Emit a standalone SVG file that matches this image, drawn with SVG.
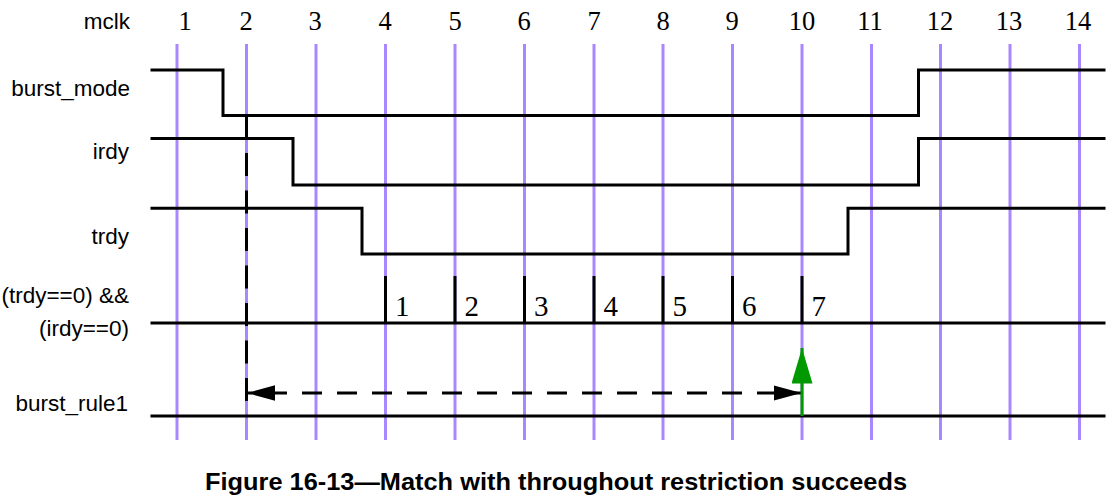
<svg xmlns="http://www.w3.org/2000/svg" width="1120" height="497" viewBox="0 0 1120 497">
<style>
.bg{fill:#ffffff}
.clk{stroke:#a987ff;stroke-width:3;fill:none}
.wave{stroke:#000;stroke-width:3;fill:none;stroke-linejoin:miter;stroke-linecap:square}
.tick{stroke:#000;stroke-width:3;fill:none}
.lbl{font-family:"Liberation Sans",Arial,sans-serif;font-size:22.5px;fill:#000;text-anchor:end}
.num{font-family:"Liberation Serif","Times New Roman",serif;font-size:26.5px;fill:#000;text-anchor:middle}
.cnt{font-family:"Liberation Serif","Times New Roman",serif;font-size:29px;fill:#000}
.dash{stroke:#000;stroke-width:3;fill:none}
.green{stroke:#009900;stroke-width:3;fill:none}
.cap{font-family:"Liberation Sans",Arial,sans-serif;font-size:24.5px;font-weight:bold;fill:#000}
</style>
<defs>
<marker id="ah" markerUnits="userSpaceOnUse" markerWidth="30" markerHeight="16" refX="28" refY="7.75" orient="auto-start-reverse" viewBox="0 0 30 16">
<path d="M0,0 L28,7.75 L0,15.5 z" fill="#000"/>
</marker>
<marker id="gh" markerUnits="userSpaceOnUse" markerWidth="36" markerHeight="22" refX="35.5" refY="10.5" orient="auto" viewBox="0 0 36 22">
<path d="M0,0 L35.5,10.5 L0,21 z" fill="#009900"/>
</marker>
</defs>
<rect class="bg" x="0" y="0" width="1120" height="497"/>
<g id="clock-grid">
<path class="clk" d="M177,44V440 M246.5,44V440 M316,44V440 M385.5,44V440 M455,44V440 M524.5,44V440 M594,44V440 M663,44V440 M732.5,44V440 M802,44V440 M871.5,44V440 M940.5,44V440 M1010,44V440 M1079.5,44V440"/>
</g>
<g id="clock-numbers">
<text class="num" x="185" y="29.5">1</text>
<text class="num" x="246" y="29.5">2</text>
<text class="num" x="315" y="29.5">3</text>
<text class="num" x="385" y="29.5">4</text>
<text class="num" x="455" y="29.5">5</text>
<text class="num" x="524" y="29.5">6</text>
<text class="num" x="594" y="29.5">7</text>
<text class="num" x="663" y="29.5">8</text>
<text class="num" x="732" y="29.5">9</text>
<text class="num" x="802" y="29.5">10</text>
<text class="num" x="870" y="29.5">11</text>
<text class="num" x="940" y="29.5">12</text>
<text class="num" x="1009" y="29.5">13</text>
<text class="num" x="1078" y="29.5">14</text>
</g>
<g id="labels">
<text class="lbl" x="130" y="29">mclk</text>
<text class="lbl" x="130" y="96">burst_mode</text>
<text class="lbl" x="129" y="159">irdy</text>
<text class="lbl" x="129" y="243.5">trdy</text>
<text class="lbl" x="129" y="303">(trdy==0) &amp;&amp;</text>
<text class="lbl" x="129" y="336">(irdy==0)</text>
<text class="lbl" x="128" y="411">burst_rule1</text>
</g>
<g id="burst_mode">
<path class="wave" d="M152,70 H223 V115.5 H918.5 V70 H1104"/>
</g>
<g id="irdy">
<path class="wave" d="M152,138.5 H293 V185 H918.5 V138.5 H1104"/>
</g>
<g id="trdy">
<path class="wave" d="M152,208.3 H362 V254 H848 V208.3 H1104"/>
</g>
<g id="condition">
<path class="wave" d="M152,323 H1104"/>
<path class="tick" d="M385.5,276V323 M455,276V323 M524.5,276V323 M594,276V323 M663,276V323 M732.5,276V323 M802,276V323"/>
<text class="cnt" x="395" y="316">1</text>
<text class="cnt" x="464.5" y="316">2</text>
<text class="cnt" x="534" y="316">3</text>
<text class="cnt" x="603.5" y="316">4</text>
<text class="cnt" x="672.5" y="316">5</text>
<text class="cnt" x="742" y="316">6</text>
<text class="cnt" x="811.5" y="316">7</text>
</g>
<g id="burst_rule1">
<path class="wave" d="M152,416 H1104"/>
</g>
<g id="connectors">
<path class="dash" d="M246.5,115.5 V416" stroke-dasharray="23,14.5"/>
<path class="dash" d="M247,393 H801.5" stroke-dasharray="20,15" stroke-dashoffset="15" marker-start="url(#ah)" marker-end="url(#ah)"/>
<path class="green" d="M802,416 V348" marker-end="url(#gh)"/>
</g>
<text class="cap" x="205" y="490" textLength="702" lengthAdjust="spacingAndGlyphs">Figure 16-13—Match with throughout restriction succeeds</text>
</svg>
